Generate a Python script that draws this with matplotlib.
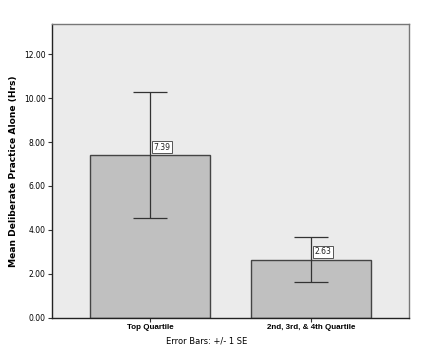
import matplotlib.pyplot as plt

# data
categories = ["Top Quartile", "2nd, 3rd, & 4th Quartile"]
means = [7.39, 2.63]
se = [2.87, 1.02]
yticks = [0, 2, 4, 6, 8, 10, 12]

fig = plt.figure(figsize=(4.28, 3.6), dpi=100)
ax = fig.add_axes([0.1215, 0.118, 0.834, 0.814])
ax.set_facecolor("#ebebeb")

x = list(range(len(categories)))
ax.bar(x, means, width=0.75, color="#c0c0c0", edgecolor="#444444", linewidth=1.0, zorder=2)
ax.errorbar(x, means, yerr=se, fmt="none", ecolor="#333333", elinewidth=0.9,
            capsize=12, capthick=0.9, zorder=3)

# value labels in little boxes, just right of the error line
for xi, m in zip(x, means):
    ax.annotate(f"{m:.2f}", xy=(xi, m), xytext=(2.5, 2.5), textcoords="offset points",
                ha="left", va="bottom", fontsize=5.5, color="#222222", zorder=4,
                bbox=dict(boxstyle="square,pad=0.2", fc="white", ec="#555555", lw=0.7))

ax.set_xlim(-0.61, 1.61)
ax.set_ylim(0, 13.36)
ax.set_yticks(yticks)
ax.set_yticklabels([f"{t:.2f}" for t in yticks], fontsize=5.5)
ax.set_xticks(x)
ax.set_xticklabels(categories, fontsize=5.8, fontweight="bold", family="Liberation Sans")
ax.tick_params(axis="both", length=3, width=0.8, color="#333333", pad=1.5)

for side in ["left", "bottom"]:
    ax.spines[side].set_color("#222222")
    ax.spines[side].set_linewidth(1.0)
for side in ["top", "right"]:
    ax.spines[side].set_color("#777777")
    ax.spines[side].set_linewidth(1.0)

ax.set_ylabel("Mean Deliberate Practice Alone (Hrs)", fontsize=6.6, fontweight="bold", labelpad=4)
ax.set_xlabel("Error Bars: +/- 1 SE", fontsize=6, labelpad=4)
ax.xaxis.label.set_x(0.434)

fig.savefig("out.png", dpi=100)
